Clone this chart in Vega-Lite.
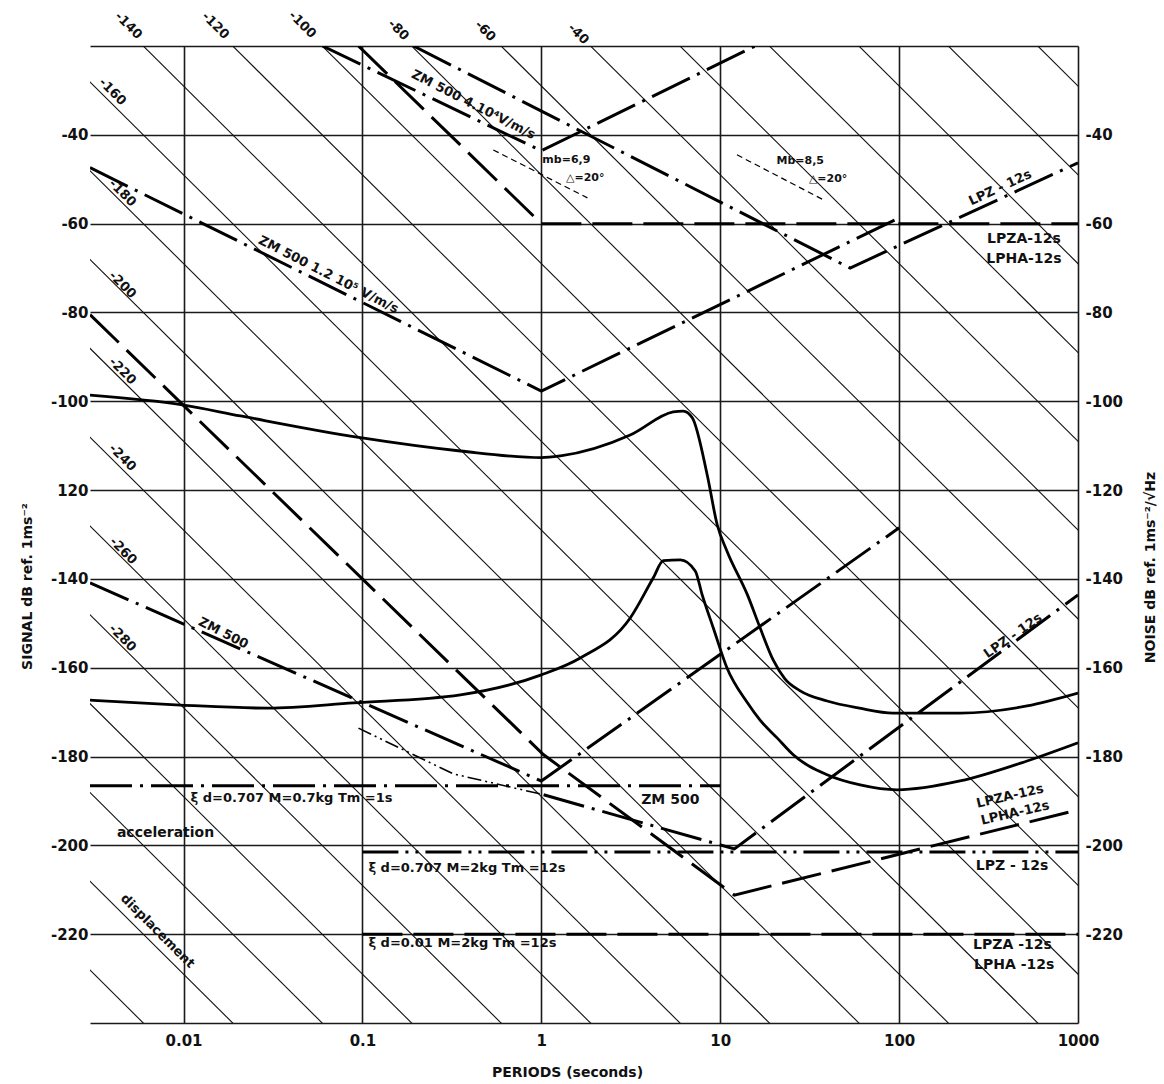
{
  "$schema": "https://vega.github.io/schema/vega-lite/v6.json",
  "width": 988,
  "height": 977,
  "autosize": {"type": "none"},
  "padding": {"left": 90, "top": 46, "right": 86, "bottom": 61},
  "background": "white",
  "config": {
    "view": {"stroke": null},
    "font": "DejaVu Sans",
    "axis": {"labelFont": "DejaVu Sans", "titleFont": "DejaVu Sans", "labelColor": "#111", "titleColor": "#111", "titleFontWeight": "bold", "labelFontWeight": "bold"}
  },
  "datasets": {
    "diag": [
      {"id": "d-360", "T": 0.001, "a": -209}, {"id": "d-360", "T": 10000, "a": -489},
      {"id": "d-340", "T": 0.001, "a": -189}, {"id": "d-340", "T": 10000, "a": -469},
      {"id": "d-320", "T": 0.001, "a": -169}, {"id": "d-320", "T": 10000, "a": -449},
      {"id": "d-300", "T": 0.001, "a": -149}, {"id": "d-300", "T": 10000, "a": -429},
      {"id": "d-280", "T": 0.001, "a": -129}, {"id": "d-280", "T": 10000, "a": -409},
      {"id": "d-260", "T": 0.001, "a": -109}, {"id": "d-260", "T": 10000, "a": -389},
      {"id": "d-240", "T": 0.001, "a": -89}, {"id": "d-240", "T": 10000, "a": -369},
      {"id": "d-220", "T": 0.001, "a": -69}, {"id": "d-220", "T": 10000, "a": -349},
      {"id": "d-200", "T": 0.001, "a": -49}, {"id": "d-200", "T": 10000, "a": -329},
      {"id": "d-180", "T": 0.001, "a": -29}, {"id": "d-180", "T": 10000, "a": -309},
      {"id": "d-160", "T": 0.001, "a": -9}, {"id": "d-160", "T": 10000, "a": -289},
      {"id": "d-140", "T": 0.001, "a": 11}, {"id": "d-140", "T": 10000, "a": -269},
      {"id": "d-120", "T": 0.001, "a": 31}, {"id": "d-120", "T": 10000, "a": -249},
      {"id": "d-100", "T": 0.001, "a": 51}, {"id": "d-100", "T": 10000, "a": -229},
      {"id": "d-80", "T": 0.001, "a": 71}, {"id": "d-80", "T": 10000, "a": -209},
      {"id": "d-60", "T": 0.001, "a": 91}, {"id": "d-60", "T": 10000, "a": -189},
      {"id": "d-40", "T": 0.001, "a": 111}, {"id": "d-40", "T": 10000, "a": -169},
      {"id": "d-20", "T": 0.001, "a": 131}, {"id": "d-20", "T": 10000, "a": -149},
      {"id": "d0", "T": 0.001, "a": 151}, {"id": "d0", "T": 10000, "a": -129},
      {"id": "d20", "T": 0.001, "a": 171}, {"id": "d20", "T": 10000, "a": -109},
      {"id": "d40", "T": 0.001, "a": 191}, {"id": "d40", "T": 10000, "a": -89},
      {"id": "d60", "T": 0.001, "a": 211}, {"id": "d60", "T": 10000, "a": -69}
    ],
    "solid": [
      {"id": "A", "T": 0.003, "a": -98.6}, {"id": "A", "T": 0.00987, "a": -100.8}, {"id": "A", "T": 0.0208, "a": -103.3},
      {"id": "A", "T": 0.0975, "a": -108.2}, {"id": "A", "T": 0.353, "a": -111.2}, {"id": "A", "T": 1, "a": -112.7},
      {"id": "A", "T": 1.28, "a": -112.3}, {"id": "A", "T": 3.14, "a": -107.6}, {"id": "A", "T": 5.46, "a": -102.4},
      {"id": "A", "T": 6.21, "a": -102.2}, {"id": "A", "T": 6.98, "a": -103.7}, {"id": "A", "T": 8.46, "a": -116.6},
      {"id": "A", "T": 9.62, "a": -127.8}, {"id": "A", "T": 10.9, "a": -133.7}, {"id": "A", "T": 14.2, "a": -143.6},
      {"id": "A", "T": 16.7, "a": -151}, {"id": "A", "T": 19.8, "a": -158.3}, {"id": "A", "T": 23, "a": -162.5},
      {"id": "A", "T": 28, "a": -165.2}, {"id": "A", "T": 39.6, "a": -167.5}, {"id": "A", "T": 60, "a": -169.1},
      {"id": "A", "T": 92.5, "a": -170.2}, {"id": "A", "T": 219, "a": -170.2}, {"id": "A", "T": 519, "a": -168.6},
      {"id": "A", "T": 1000, "a": -165.7},
      {"id": "B", "T": 0.003, "a": -167.3}, {"id": "B", "T": 0.0096, "a": -168.4}, {"id": "B", "T": 0.0295, "a": -169.1},
      {"id": "B", "T": 0.0891, "a": -167.9}, {"id": "B", "T": 0.353, "a": -166.1}, {"id": "B", "T": 1, "a": -161.6},
      {"id": "B", "T": 1.65, "a": -157.8}, {"id": "B", "T": 3.14, "a": -148.8}, {"id": "B", "T": 4.22, "a": -139.8},
      {"id": "B", "T": 4.81, "a": -135.9}, {"id": "B", "T": 5.98, "a": -135.7}, {"id": "B", "T": 7.25, "a": -138.2},
      {"id": "B", "T": 7.93, "a": -143.6}, {"id": "B", "T": 9.14, "a": -151}, {"id": "B", "T": 10.9, "a": -160},
      {"id": "B", "T": 14.2, "a": -167.9}, {"id": "B", "T": 16.7, "a": -171.8}, {"id": "B", "T": 20.8, "a": -175.8},
      {"id": "B", "T": 25.6, "a": -179.6}, {"id": "B", "T": 39.6, "a": -184.1}, {"id": "B", "T": 60.6, "a": -186.4},
      {"id": "B", "T": 97.5, "a": -187.5}, {"id": "B", "T": 219, "a": -185.5}, {"id": "B", "T": 519, "a": -181},
      {"id": "B", "T": 1000, "a": -176.9}
    ],
    "longdash": [
      {"id": "zm4e4", "T": 0.095, "a": -20}, {"id": "zm4e4", "T": 1, "a": -60}, {"id": "zm4e4", "T": 1000, "a": -60},
      {"id": "L5", "T": 0.003, "a": -80.5}, {"id": "L5", "T": 1.03, "a": -179.6}, {"id": "L5", "T": 12, "a": -211.2}, {"id": "L5", "T": 1000, "a": -192},
      {"id": "H3", "T": 0.1, "a": -220}, {"id": "H3", "T": 1000, "a": -220}
    ],
    "dashdot": [
      {"id": "zm4e4v", "T": 0.0598, "a": -20}, {"id": "zm4e4v", "T": 1, "a": -43.6}, {"id": "zm4e4v", "T": 15.7, "a": -20},
      {"id": "lpzup", "T": 0.193, "a": -20}, {"id": "lpzup", "T": 53.2, "a": -70}, {"id": "lpzup", "T": 1000, "a": -46.3},
      {"id": "bigV", "T": 0.003, "a": -47.4}, {"id": "bigV", "T": 1, "a": -97.7}, {"id": "bigV", "T": 100, "a": -58.7},
      {"id": "zm500", "T": 0.003, "a": -140.9}, {"id": "zm500", "T": 1, "a": -185.5}, {"id": "zm500", "T": 100, "a": -128.5},
      {"id": "H1", "T": 0.003, "a": -186.6}, {"id": "H1", "T": 10, "a": -186.6},
      {"id": "lpzlow", "T": 1.03, "a": -188.6}, {"id": "lpzlow", "T": 12, "a": -200.8}, {"id": "lpzlow", "T": 1000, "a": -143.6}
    ],
    "dashdotdot": [
      {"id": "H2", "T": 0.1, "a": -201.5}, {"id": "H2", "T": 1000, "a": -201.5}
    ],
    "thin": [
      {"id": "t1", "T": 0.095, "a": -173.6}, {"id": "t1", "T": 0.322, "a": -183.9}, {"id": "t1", "T": 1.03, "a": -188.6}
    ],
    "shortdash": [
      {"id": "mb69", "T": 0.539, "a": -43.4}, {"id": "mb69", "T": 1.81, "a": -54.2},
      {"id": "mb85", "T": 12.4, "a": -44.5}, {"id": "mb85", "T": 37.6, "a": -54.6}
    ],
    "tDiag": [
      {"T": 0.00493, "a": -15.4, "label": "-140"}, {"T": 0.0151, "a": -15.4, "label": "-120"},
      {"T": 0.0462, "a": -15.2, "label": "-100"}, {"T": 0.159, "a": -16.4, "label": "-80"},
      {"T": 0.486, "a": -16.6, "label": "-60"}, {"T": 1.61, "a": -17.3, "label": "-40"},
      {"T": 0.00401, "a": -30.3, "label": "-160"}, {"T": 0.00456, "a": -53.1, "label": "-180"},
      {"T": 0.00456, "a": -73.8, "label": "-200"}, {"T": 0.00456, "a": -93.2, "label": "-220"},
      {"T": 0.00456, "a": -112.7, "label": "-240"}, {"T": 0.0046, "a": -133.7, "label": "-260"},
      {"T": 0.00456, "a": -153.3, "label": "-280"}, {"T": 0.00716, "a": -219.3, "label": "displacement"}
    ],
    "tH": [
      {"T": 0.00793, "a": -197.2, "label": "acceleration"},
      {"T": 499, "a": -63.4, "label": "LPZA-12s"}, {"T": 499, "a": -67.9, "label": "LPHA-12s"},
      {"T": 5.26, "a": -189.8, "label": "ZM 500"},
      {"T": 428, "a": -204.6, "label": "LPZ  -  12s"},
      {"T": 430, "a": -222.4, "label": "LPZA -12s"}, {"T": 440, "a": -226.9, "label": "LPHA -12s"}
    ],
    "tSmall": [
      {"T": 1.38, "a": -45.6, "label": "mb=6,9"}, {"T": 1.76, "a": -49.7, "label": "△=20°"},
      {"T": 28, "a": -45.9, "label": "Mb=8,5"}, {"T": 40.1, "a": -49.9, "label": "△=20°"}
    ],
    "tLeft": [
      {"T": 0.01094, "a": -189.3, "label": "ξ d=0.707 M=0.7kg  Tm =1s"},
      {"T": 0.108, "a": -205.1, "label": "ξ d=0.707  M=2kg  Tm =12s"},
      {"T": 0.108, "a": -222, "label": "ξ d=0.01   M=2kg  Tm =12s"}
    ],
    "t27": [
      {"T": 0.417, "a": -33.2, "label": "ZM 500 4.10⁴V/m/s"},
      {"T": 0.0646, "a": -71.5, "label": "ZM 500  1.2 10⁵ V/m/s"},
      {"T": 0.0167, "a": -152.2, "label": "ZM 500"}
    ],
    "tm25": [{"T": 367, "a": -51.9, "label": "LPZ  -  12s"}],
    "tm35": [{"T": 433, "a": -152.8, "label": "LPZ  -  12s"}],
    "tm13": [
      {"T": 417, "a": -188.9, "label": "LPZA-12s"},
      {"T": 445, "a": -192.7, "label": "LPHA-12s"}
    ]
  },
  "layer": [
    {
      "data": {"name": "diag"},
      "mark": {"type": "line", "clip": true, "stroke": "#111", "strokeWidth": 1.1},
      "encoding": {
        "x": {
          "field": "T", "type": "quantitative",
          "scale": {"type": "log", "domain": [0.003, 1000], "nice": false},
          "axis": {
            "values": [0.01, 0.1, 1, 10, 100, 1000], "grid": true, "gridColor": "#1a1a1a", "gridWidth": 1.6, "gridOpacity": 1,
            "domain": false, "ticks": false, "labelPadding": 10, "format": "~g", "labelFontSize": 15,
            "labelFlush": false, "labelOverlap": false,
            "title": "PERIODS  (seconds)", "titleFontSize": 14, "titleX": 477, "titleY": 49,
            "titleAlign": "center", "titleBaseline": "middle"
          }
        },
        "y": {
          "field": "a", "type": "quantitative",
          "scale": {"domain": [-240, -20], "nice": false, "zero": false},
          "axis": {
            "orient": "left",
            "values": [-20, -40, -60, -80, -100, -120, -140, -160, -180, -200, -220, -240],
            "grid": true, "gridColor": "#1a1a1a", "gridWidth": 1.6, "gridOpacity": 1,
            "domain": false, "ticks": false, "labelPadding": 2, "labelFontSize": 15, "labelOverlap": false,
            "labelExpr": "datum.value == -20 || datum.value == -240 ? '' : datum.value == -120 ? '120' : '-' + abs(datum.value)",
            "title": "SIGNAL   dB  ref.   1ms⁻²", "titleFontSize": 14, "titleAngle": -90,
            "titleX": -63, "titleY": 540, "titleAlign": "center", "titleBaseline": "middle"
          }
        },
        "detail": {"field": "id"}
      }
    },
    {
      "data": {"name": "solid"},
      "mark": {"type": "line", "clip": true, "stroke": "#000", "strokeWidth": 2.8, "interpolate": "monotone"},
      "encoding": {
        "x": {"field": "T", "type": "quantitative", "scale": {"type": "log", "domain": [0.003, 1000], "nice": false}},
        "y": {
          "field": "a", "type": "quantitative",
          "scale": {"domain": [-240, -20], "nice": false, "zero": false},
          "axis": {
            "orient": "right",
            "values": [-40, -60, -80, -100, -120, -140, -160, -180, -200, -220],
            "grid": false, "domain": false, "ticks": false, "labelPadding": 7, "labelFontSize": 15, "labelOverlap": false,
            "labelExpr": "'-' + abs(datum.value)",
            "title": "NOISE   dB  ref.   1ms⁻²/√Hz", "titleFontSize": 14, "titleAngle": -90,
            "titleX": 72, "titleY": 521, "titleAlign": "center", "titleBaseline": "middle"
          }
        },
        "detail": {"field": "id"}
      }
    },
    {
      "data": {"name": "longdash"},
      "mark": {"type": "line", "clip": true, "stroke": "#000", "strokeWidth": 3, "strokeDash": [40, 11]},
      "encoding": {
        "x": {"field": "T", "type": "quantitative", "scale": {"type": "log", "domain": [0.003, 1000], "nice": false}},
        "y": {"field": "a", "type": "quantitative", "scale": {"domain": [-240, -20], "nice": false, "zero": false}, "axis": null},
        "detail": {"field": "id"}
      }
    },
    {
      "data": {"name": "dashdot"},
      "mark": {"type": "line", "clip": true, "stroke": "#000", "strokeWidth": 3, "strokeDash": [42, 8, 3, 8]},
      "encoding": {
        "x": {"field": "T", "type": "quantitative", "scale": {"type": "log", "domain": [0.003, 1000], "nice": false}},
        "y": {"field": "a", "type": "quantitative", "scale": {"domain": [-240, -20], "nice": false, "zero": false}, "axis": null},
        "detail": {"field": "id"}
      }
    },
    {
      "data": {"name": "dashdotdot"},
      "mark": {"type": "line", "clip": true, "stroke": "#000", "strokeWidth": 3, "strokeDash": [36, 7, 3, 7, 3, 7]},
      "encoding": {
        "x": {"field": "T", "type": "quantitative", "scale": {"type": "log", "domain": [0.003, 1000], "nice": false}},
        "y": {"field": "a", "type": "quantitative", "scale": {"domain": [-240, -20], "nice": false, "zero": false}, "axis": null},
        "detail": {"field": "id"}
      }
    },
    {
      "data": {"name": "thin"},
      "mark": {"type": "line", "clip": true, "stroke": "#000", "strokeWidth": 1.6, "strokeDash": [14, 4, 2, 4, 2, 4]},
      "encoding": {
        "x": {"field": "T", "type": "quantitative", "scale": {"type": "log", "domain": [0.003, 1000], "nice": false}},
        "y": {"field": "a", "type": "quantitative", "scale": {"domain": [-240, -20], "nice": false, "zero": false}, "axis": null},
        "detail": {"field": "id"}
      }
    },
    {
      "data": {"name": "shortdash"},
      "mark": {"type": "line", "clip": true, "stroke": "#000", "strokeWidth": 1.2, "strokeDash": [6, 4]},
      "encoding": {
        "x": {"field": "T", "type": "quantitative", "scale": {"type": "log", "domain": [0.003, 1000], "nice": false}},
        "y": {"field": "a", "type": "quantitative", "scale": {"domain": [-240, -20], "nice": false, "zero": false}, "axis": null},
        "detail": {"field": "id"}
      }
    },
    {
      "data": {"name": "tDiag"},
      "mark": {"type": "text", "angle": 45, "fontSize": 13, "fontWeight": "bold", "font": "DejaVu Sans", "fill": "#111", "align": "center", "baseline": "middle"},
      "encoding": {
        "x": {"field": "T", "type": "quantitative", "scale": {"type": "log", "domain": [0.003, 1000], "nice": false}},
        "y": {"field": "a", "type": "quantitative", "scale": {"domain": [-240, -20], "nice": false, "zero": false}, "axis": null},
        "text": {"field": "label"}
      }
    },
    {
      "data": {"name": "tH"},
      "mark": {"type": "text", "angle": 0, "fontSize": 14, "fontWeight": "bold", "font": "DejaVu Sans", "fill": "#111", "align": "center", "baseline": "middle"},
      "encoding": {
        "x": {"field": "T", "type": "quantitative", "scale": {"type": "log", "domain": [0.003, 1000], "nice": false}},
        "y": {"field": "a", "type": "quantitative", "scale": {"domain": [-240, -20], "nice": false, "zero": false}, "axis": null},
        "text": {"field": "label"}
      }
    },
    {
      "data": {"name": "tSmall"},
      "mark": {"type": "text", "angle": 0, "fontSize": 11, "fontWeight": "bold", "font": "DejaVu Sans", "fill": "#111", "align": "center", "baseline": "middle"},
      "encoding": {
        "x": {"field": "T", "type": "quantitative", "scale": {"type": "log", "domain": [0.003, 1000], "nice": false}},
        "y": {"field": "a", "type": "quantitative", "scale": {"domain": [-240, -20], "nice": false, "zero": false}, "axis": null},
        "text": {"field": "label"}
      }
    },
    {
      "data": {"name": "tLeft"},
      "mark": {"type": "text", "angle": 0, "fontSize": 13, "fontWeight": "bold", "font": "DejaVu Sans", "fill": "#111", "align": "left", "baseline": "middle"},
      "encoding": {
        "x": {"field": "T", "type": "quantitative", "scale": {"type": "log", "domain": [0.003, 1000], "nice": false}},
        "y": {"field": "a", "type": "quantitative", "scale": {"domain": [-240, -20], "nice": false, "zero": false}, "axis": null},
        "text": {"field": "label"}
      }
    },
    {
      "data": {"name": "t27"},
      "mark": {"type": "text", "angle": 27, "fontSize": 13, "fontWeight": "bold", "font": "DejaVu Sans", "fill": "#111", "align": "center", "baseline": "middle"},
      "encoding": {
        "x": {"field": "T", "type": "quantitative", "scale": {"type": "log", "domain": [0.003, 1000], "nice": false}},
        "y": {"field": "a", "type": "quantitative", "scale": {"domain": [-240, -20], "nice": false, "zero": false}, "axis": null},
        "text": {"field": "label"}
      }
    },
    {
      "data": {"name": "tm25"},
      "mark": {"type": "text", "angle": -25, "fontSize": 13, "fontWeight": "bold", "font": "DejaVu Sans", "fill": "#111", "align": "center", "baseline": "middle"},
      "encoding": {
        "x": {"field": "T", "type": "quantitative", "scale": {"type": "log", "domain": [0.003, 1000], "nice": false}},
        "y": {"field": "a", "type": "quantitative", "scale": {"domain": [-240, -20], "nice": false, "zero": false}, "axis": null},
        "text": {"field": "label"}
      }
    },
    {
      "data": {"name": "tm35"},
      "mark": {"type": "text", "angle": -35, "fontSize": 13, "fontWeight": "bold", "font": "DejaVu Sans", "fill": "#111", "align": "center", "baseline": "middle"},
      "encoding": {
        "x": {"field": "T", "type": "quantitative", "scale": {"type": "log", "domain": [0.003, 1000], "nice": false}},
        "y": {"field": "a", "type": "quantitative", "scale": {"domain": [-240, -20], "nice": false, "zero": false}, "axis": null},
        "text": {"field": "label"}
      }
    },
    {
      "data": {"name": "tm13"},
      "mark": {"type": "text", "angle": -13, "fontSize": 13, "fontWeight": "bold", "font": "DejaVu Sans", "fill": "#111", "align": "center", "baseline": "middle"},
      "encoding": {
        "x": {"field": "T", "type": "quantitative", "scale": {"type": "log", "domain": [0.003, 1000], "nice": false}},
        "y": {"field": "a", "type": "quantitative", "scale": {"domain": [-240, -20], "nice": false, "zero": false}, "axis": null},
        "text": {"field": "label"}
      }
    }
  ],
  "resolve": {"axis": {"y": "independent"}}
}
